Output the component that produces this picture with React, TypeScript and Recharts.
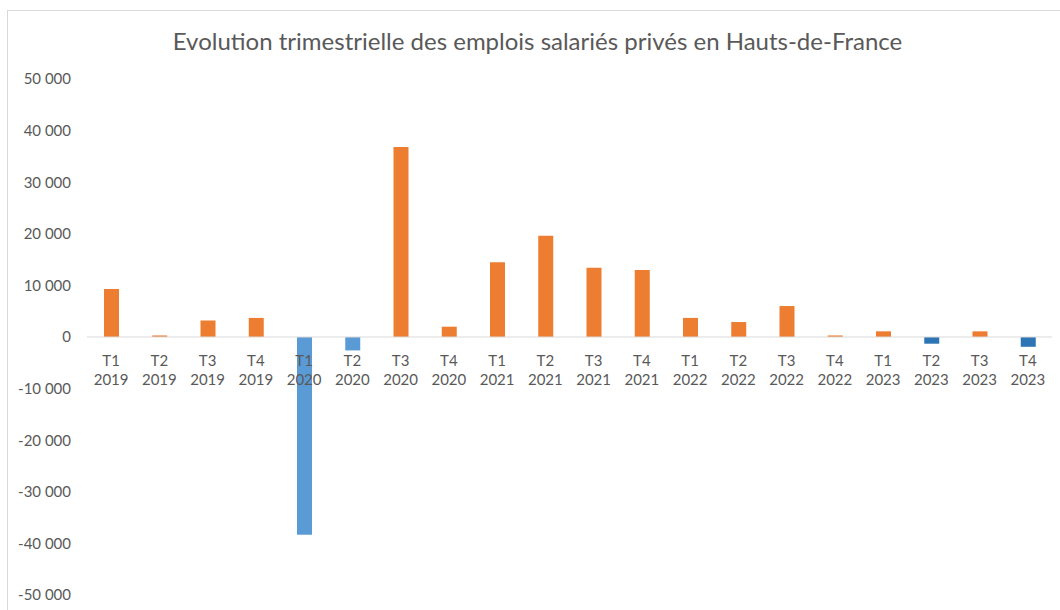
import React from "react";
import { BarChart, Bar, XAxis, YAxis, ReferenceLine, Cell } from "recharts";

const quarters = ["T1","T2","T3","T4","T1","T2","T3","T4","T1","T2","T3","T4","T1","T2","T3","T4","T1","T2","T3","T4"];
const years = ["2019","2019","2019","2019","2020","2020","2020","2020","2021","2021","2021","2021","2022","2022","2022","2022","2023","2023","2023","2023"];
const values = [9300, 300, 3200, 3700, -38300, -2600, 36800, 2000, 14500, 19600, 13400, 13000, 3700, 2900, 6000, 300, 1100, -1300, 1100, -1900];
const yTicks = [50000, 40000, 30000, 20000, 10000, 0, -10000, -20000, -30000, -40000, -50000];

const data = values.map((v, i) => ({ key: `${quarters[i]} ${years[i]}`, q: quarters[i], y: years[i], value: v }));

const W = 1060;
const H = 610;
const XAXIS_H = 15;
const M = { top: 79, right: 8, bottom: 0, left: 0 };
const Y_MIN = -50000;
const Y_MAX = 50000;
const plotH = H - M.top - M.bottom - XAXIS_H;
const zeroY = M.top + (plotH * (Y_MAX - 0)) / (Y_MAX - Y_MIN);

const FONT = "Lato, 'Open Sans', sans-serif";
const TXT = "#595959";

const fmt = (v: number) => {
  const s = Math.abs(v).toString().replace(/\B(?=(\d{3})+(?!\d))/g, " ");
  return (v < 0 ? "-" : "") + s;
};

const colorFor = (v: number, year: string) => {
  if (v >= 0) return "#ED7D31";
  return year === "2023" ? "#2E75B6" : "#5B9BD5";
};

const renderXTick = (props: any) => {
  const { x, index } = props;
  const d = data[index];
  if (!d) return <g />;
  return (
    <g>
      <text x={x} y={zeroY + 29} textAnchor="middle" fill={TXT} fontSize={15} fontFamily={FONT}>{d.q}</text>
      <text x={x} y={zeroY + 48} textAnchor="middle" fill={TXT} fontSize={15} fontFamily={FONT}>{d.y}</text>
    </g>
  );
};

export default function App() {
  return (
    <div style={{ position: "absolute", left: 0, top: 0, width: W, height: H, background: "#fff", overflow: "hidden" }}>
      <div style={{ position: "absolute", left: 7, top: 10, width: W, height: H, borderLeft: "1px solid #d9d9d9", borderTop: "1px solid #d9d9d9" }} />
      <div style={{ position: "absolute", left: 0, top: 26, width: W + 15, textAlign: "center", fontFamily: FONT, fontSize: 24, color: TXT }}>
        Evolution trimestrielle des emplois salariés privés en Hauts-de-France
      </div>
      <div style={{ position: "absolute", left: 0, top: 0 }}>
        <BarChart width={W} height={H} data={data} margin={M} barSize={15}>
          <YAxis
            type="number"
            domain={[Y_MIN, Y_MAX]}
            ticks={yTicks}
            interval={0}
            width={87}
            axisLine={false}
            tickLine={false}
            tickMargin={10}
            tickFormatter={fmt}
            tick={{ fill: TXT, fontSize: 15, fontFamily: FONT }}
          />
          <XAxis dataKey="key" axisLine={false} tickLine={false} interval={0} tick={renderXTick} height={XAXIS_H} />
          <ReferenceLine y={0} stroke="#d9d9d9" strokeWidth={1} />
          <Bar dataKey="value" isAnimationActive={false}>
            {data.map((d, i) => (
              <Cell key={i} fill={colorFor(d.value, d.y)} />
            ))}
          </Bar>
        </BarChart>
      </div>
    </div>
  );
}
